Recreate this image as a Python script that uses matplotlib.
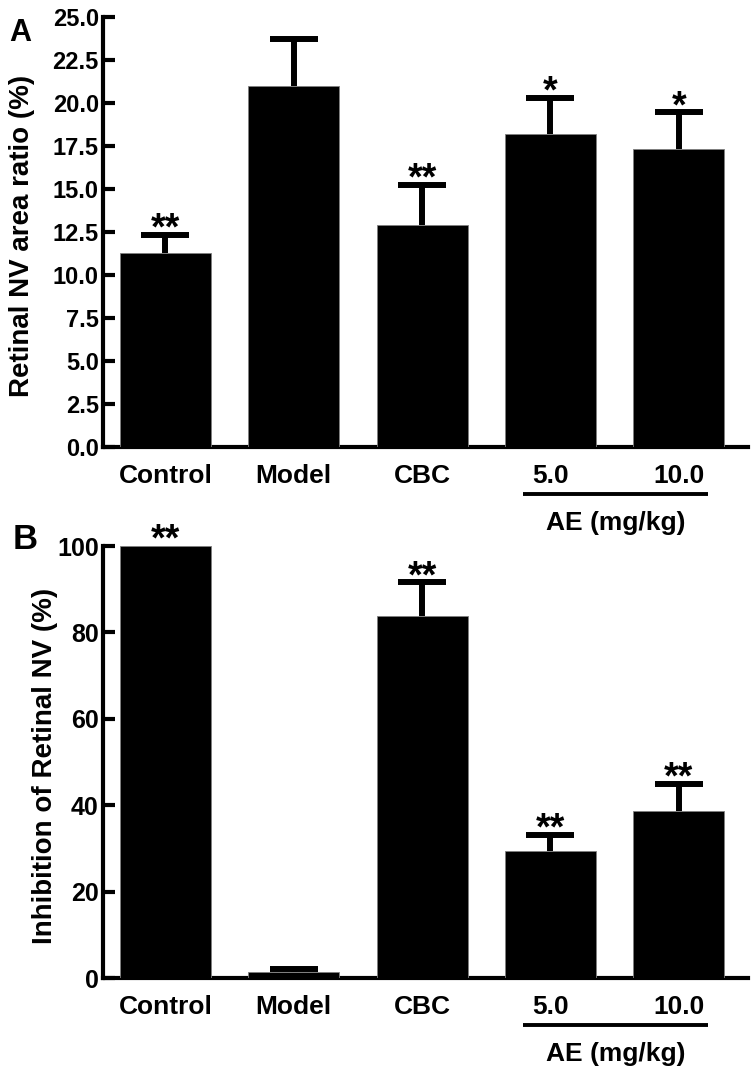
import numpy as np
import matplotlib
matplotlib.use('Agg')
import matplotlib.pyplot as plt
from matplotlib import transforms

plt.rcParams['font.family'] = ['Liberation Sans', 'DejaVu Sans']
plt.rcParams['font.weight'] = 'bold'

# 数据
groups = ['Control', 'Model', 'CBC', '5.0', '10.0']
area_mean = [11.3, 21.0, 12.9, 18.2, 17.3]
area_sem = [1.05, 2.7, 2.35, 2.1, 2.15]
area_sig = ['**', '', '**', '*', '*']
inhib_mean = [100.0, 1.5, 83.8, 29.4, 38.6]
inhib_sem = [0.0, 0.5, 7.8, 3.8, 6.3]
inhib_sig = ['**', '', '**', '**', '**']
area_ticks = [0, 2.5, 5, 7.5, 10, 12.5, 15, 17.5, 20, 22.5, 25]
inhib_ticks = [0, 20, 40, 60, 80, 100]


def draw_panel(ax, means, sems, sigs, yticks, fmt, ylabel, tick_size, label_x):
    x = np.arange(len(groups))
    means = np.asarray(means)
    sems = np.asarray(sems)
    ax.bar(x, means, width=0.71, color='black', edgecolor='#808080',
           linewidth=0.6, zorder=3)
    has = sems > 0
    _, caps, _ = ax.errorbar(x[has], means[has],
                             yerr=[np.zeros(has.sum()), sems[has]],
                             fmt='none', ecolor='black', elinewidth=4.3,
                             capsize=17.6, capthick=4.3, zorder=2)
    # 只保留上方的误差帽
    caps[0].set_visible(False)
    for xi, m, s, sig in zip(x, means, sems, sigs):
        if sig:
            ax.annotate(sig, xy=(xi, m + s), xytext=(0, -3.5),
                        textcoords='offset points', ha='center', va='baseline',
                        fontsize=27, fontweight='bold', annotation_clip=False)

    ax.set_xlim(-0.487, 4.54)
    ax.set_ylim(yticks[0], yticks[-1])
    ax.set_yticks(yticks)
    ax.set_yticklabels([fmt.format(t) for t in yticks])
    ax.set_xticks(x)
    ax.set_xticklabels(groups)
    for s in ['top', 'right']:
        ax.spines[s].set_visible(False)
    for s in ['left', 'bottom']:
        ax.spines[s].set_linewidth(3)
    ax.tick_params(axis='y', direction='in', length=8.5, width=3, pad=3,
                   labelsize=tick_size)
    ax.tick_params(axis='x', length=0, pad=12, labelsize=19)
    ax.set_ylabel(ylabel, fontsize=20, fontweight='bold')
    ax.yaxis.set_label_coords(label_x, 0.49)

    # AE (mg/kg) 标注线
    trans = ax.get_xaxis_transform()
    line_trans = transforms.offset_copy(trans, fig=ax.figure, y=-34, units='points')
    ax.plot([x[3] - 0.21, x[4] + 0.23], [0, 0], color='black', linewidth=2.8,
            transform=line_trans, clip_on=False, solid_capstyle='butt')
    ax.annotate('AE (mg/kg)', xy=((x[3] + x[4]) / 2 + 0.01, 0),
                xycoords=trans, xytext=(0, -55), textcoords='offset points',
                ha='center', va='center', fontsize=19, fontweight='bold',
                annotation_clip=False)


fig = plt.figure(figsize=(7.56, 10.73), dpi=100)
ax_a = fig.add_axes([0.1362, 0.5834, 0.8532, 0.4008])
ax_b = fig.add_axes([0.1362, 0.0885, 0.8532, 0.4026])

draw_panel(ax_a, area_mean, area_sem, area_sig, area_ticks, '{:.1f}',
           'Retinal NV area ratio (%)', 17, -0.105)
draw_panel(ax_b, inhib_mean, inhib_sem, inhib_sig, inhib_ticks, '{:.0f}',
           'Inhibition of Retinal NV (%)', 18, -0.07)

fig.text(0.027, 0.983, 'A', fontsize=22, fontweight='bold', ha='center', va='top')
fig.text(0.033, 0.513, 'B', fontsize=25, fontweight='bold', ha='center', va='top')

fig.savefig('out.png', dpi=100)
